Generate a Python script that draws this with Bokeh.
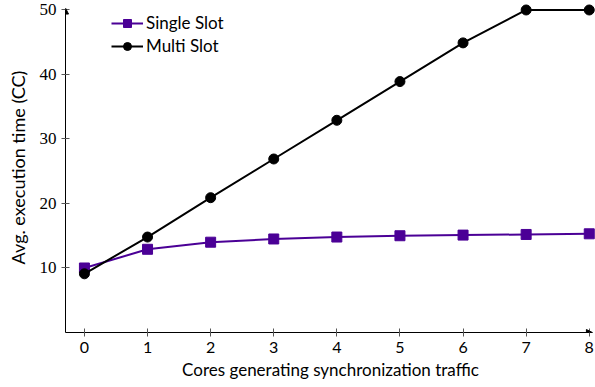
from bokeh.plotting import figure
from bokeh.models import Range1d, Arrow, NormalHead, Legend, LegendItem, FixedTicker
from bokeh.embed import file_html
from bokeh.resources import INLINE

cores = [0, 1, 2, 3, 4, 5, 6, 7, 8]
single_slot = [10.0, 12.9, 14.0, 14.5, 14.8, 15.0, 15.1, 15.2, 15.3]
multi_slot = [9.1, 14.8, 20.9, 26.9, 32.9, 38.9, 44.9, 50.0, 50.0]
x_ticks = [0, 1, 2, 3, 4, 5, 6, 7, 8]
y_ticks = [10, 20, 30, 40, 50]

PURPLE = "#4b0096"
SANS = "Lato"
SERIF = "Liberation Serif"

p = figure(width=595, height=387, output_backend="svg", toolbar_location=None,
           x_range=Range1d(-0.3, 8.099), y_range=Range1d(0, 51.16),
           min_border_left=65, min_border_right=0, min_border_top=2, min_border_bottom=55)
p.grid.visible = False
p.outline_line_color = None
p.background_fill_color = "white"

for ax in (p.xaxis[0], p.yaxis[0]):
    ax.axis_line_color = "black"
    ax.axis_line_width = 1
    ax.major_tick_in = 4
    ax.major_tick_out = 4
    ax.major_tick_line_color = "#555555"
    ax.minor_tick_line_color = None
    ax.axis_label_text_color = "black"
    ax.major_label_text_color = "black"
    ax.axis_label_text_font_style = "normal"

p.xaxis.bounds = (-0.3, 8.05)
p.xaxis.ticker = FixedTicker(ticks=x_ticks)
p.xaxis.major_label_text_font = SANS
p.xaxis.major_label_text_font_size = "16px"
p.xaxis.major_label_standoff = 5
p.xaxis.axis_label = "Cores generating synchronization traffic"
p.xaxis.axis_label_text_font = SANS
p.xaxis.axis_label_text_font_size = "17px"
p.xaxis.axis_label_standoff = 3

p.yaxis.bounds = (0, 50.1)
p.yaxis.ticker = FixedTicker(ticks=y_ticks)
p.yaxis.major_label_text_font = SERIF
p.yaxis.major_label_text_font_size = "17px"
p.yaxis.major_label_standoff = 5
p.yaxis.axis_label = "Avg. execution time (CC)"
p.yaxis.axis_label_text_font = SANS
p.yaxis.axis_label_text_font_size = "18px"
p.yaxis.axis_label_standoff = 8

# arrow heads at axis ends
p.add_layout(Arrow(end=NormalHead(size=6, fill_color="black", line_color="black"),
                   x_start=7.95, y_start=0, x_end=8.05, y_end=0, line_alpha=0))
p.add_layout(Arrow(end=NormalHead(size=6, fill_color="black", line_color="black"),
                   x_start=-0.3, y_start=49.5, x_end=-0.3, y_end=50.3, line_alpha=0))

l1 = p.line(cores, single_slot, line_color=PURPLE, line_width=2)
m1 = p.scatter(cores, single_slot, marker="square", size=10, fill_color=PURPLE, line_color=PURPLE)
l2 = p.line(cores, multi_slot, line_color="black", line_width=2)
m2 = p.scatter(cores, multi_slot, marker="circle", size=10, fill_color="black", line_color="black")

legend = Legend(items=[LegendItem(label="Single Slot", renderers=[l1, m1]),
                       LegendItem(label="Multi Slot", renderers=[l2, m2])],
                location=(46, 276), padding=0, margin=0, spacing=2,
                glyph_width=32, glyph_height=20, label_standoff=3,
                border_line_color=None, background_fill_alpha=0,
                label_text_font=SANS, label_text_font_size="17px",
                label_text_color="black")
p.add_layout(legend)

open("out.html", "w").write(file_html(p, INLINE))
